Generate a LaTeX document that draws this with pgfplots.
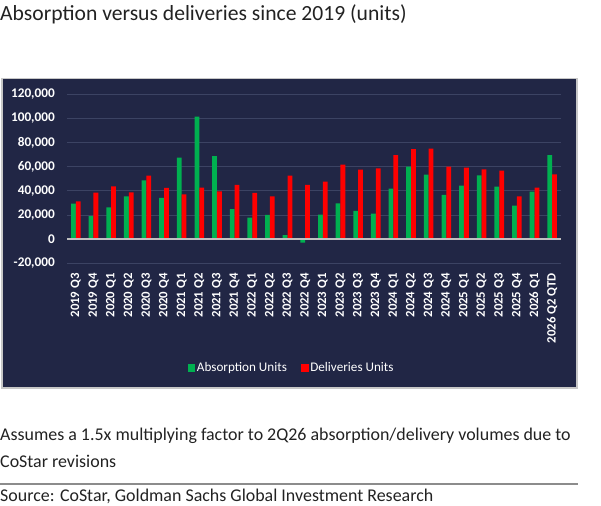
\documentclass[border=0pt]{standalone}
\usepackage{pgfplots}
\pgfplotsset{compat=1.18}
\usepackage{fontspec}
\setmainfont{Carlito}

\definecolor{panel}{HTML}{212645}
\definecolor{gridc}{HTML}{3C4363}
\definecolor{absorb}{HTML}{00B050}
\definecolor{deliv}{HTML}{FF0000}
\definecolor{zeroline}{HTML}{BFBFBF}
\definecolor{bodytext}{HTML}{222222}

% Quarterly absorption and deliveries (units)
\pgfplotstableread{
idx absorption deliveries
0   29500  31400
1   19000  38600
2   26400  43800
3   35500  38800
4   48700  52600
5   34100  42400
6   67500  37200
7   101600 42700
8   68800  39600
9   24800  44900
10  17900  38300
11  20100  35500
12  3300   52600
13  -2800  44900
14  20400  47600
15  29700  61700
16  23400  57500
17  21200  58600
18  41800  69700
19  60000  74600
20  53400  74900
21  36600  60000
22  44300  59200
23  52900  57800
24  43500  56700
25  27800  35500
26  39400  42700
27  69700  53700
}\datatable

\begin{document}
\begin{tikzpicture}
% page frame: origin at the top-left corner, 1 unit = 1bp
\begin{scope}[x=1bp, y=1bp, shift={(-67bp,263.3bp)}]
  \fill[panel] (2,-78.5) rectangle (577,-388);
  \draw[black!22, line width=1.2bp] (2,-78.5) rectangle (577,-388);
\end{scope}

\begin{axis}[
  name=main,
  scale only axis,
  width=494bp, height=169bp,
  xmin=-0.5, xmax=27.5, ymin=-20000, ymax=120000,
  axis line style={draw=none},
  major tick length=0pt,
  scaled y ticks=false,
  ymajorgrids, grid style={gridc, line width=1bp},
  ytick={-20000,0,20000,40000,60000,80000,100000,120000},
  yticklabels={{-20,000},{0},{20,000},{40,000},{60,000},{80,000},{100,000},{120,000}},
  yticklabel style={text=white, font=\fontsize{13.3}{15}\selectfont\bfseries, inner sep=0pt, anchor=east},
  yticklabel shift=12bp,
  xtick={0,...,27},
  xticklabels={2019 Q3,2019 Q4,2020 Q1,2020 Q2,2020 Q3,2020 Q4,2021 Q1,2021 Q2,2021 Q3,2021 Q4,
    2022 Q1,2022 Q2,2022 Q3,2022 Q4,2023 Q1,2023 Q2,2023 Q3,2023 Q4,2024 Q1,2024 Q2,2024 Q3,2024 Q4,
    2025 Q1,2025 Q2,2025 Q3,2025 Q4,2026 Q1,2026 Q2 QTD},
  xticklabel style={text=white, font=\fontsize{12.8}{14}\selectfont\bfseries, rotate=90, anchor=east, inner sep=0pt},
  xticklabel shift=10bp,
  ybar, bar width=4.8bp,
  legend columns=2,
  legend style={at={(0.4545,-0.6195)}, anchor=center, draw=none, fill=none,
    text=white, font=\fontsize{13.2}{15}\selectfont,
    nodes={inner sep=1.5bp}},
  legend image code/.code={\fill[#1] (0bp,-3.7bp) rectangle (7.4bp,3.7bp);},
]
\addplot[fill=absorb, draw=none, bar shift=-2.4bp] table[x=idx, y=absorption] {\datatable};
\addlegendentry{Absorption Units\kern13bp}
\addplot[fill=deliv, draw=none, bar shift=2.4bp] table[x=idx, y=deliveries] {\datatable};
\addlegendentry{Deliveries Units}
\draw[zeroline, line width=1.5bp] (axis cs:-0.5,0) -- (axis cs:27.5,0);
\end{axis}

\begin{scope}[x=1bp, y=1bp, shift={(main.south west)}, shift={(-67bp,263.3bp)}]
  % chart title
  \node[anchor=west, inner sep=0, text=bodytext, font=\fontsize{21.7}{24}\selectfont] at (0,-14)
    {Absorption versus deliveries since 2019 (units)};
  % notes below the chart
  \node[anchor=west, inner sep=0, text=bodytext, font=\fontsize{18}{21}\selectfont] at (0,-436)
    {Assumes a 1.5x multiplying factor to 2Q26 absorption/delivery volumes due to};
  \node[anchor=west, inner sep=0, text=bodytext, font=\fontsize{18}{21}\selectfont] at (0,-461)
    {CoStar revisions};
  \draw[black!45, line width=1.2bp] (0,-484) -- (578,-484);
  \node[anchor=west, inner sep=0, text=bodytext, font=\fontsize{18}{21}\selectfont] at (0,-496)
    {Source: CoStar, Goldman Sachs Global Investment Research};
  \pgfresetboundingbox
  \useasboundingbox (0,0) rectangle (601,-506);
\end{scope}
\end{tikzpicture}
\end{document}
